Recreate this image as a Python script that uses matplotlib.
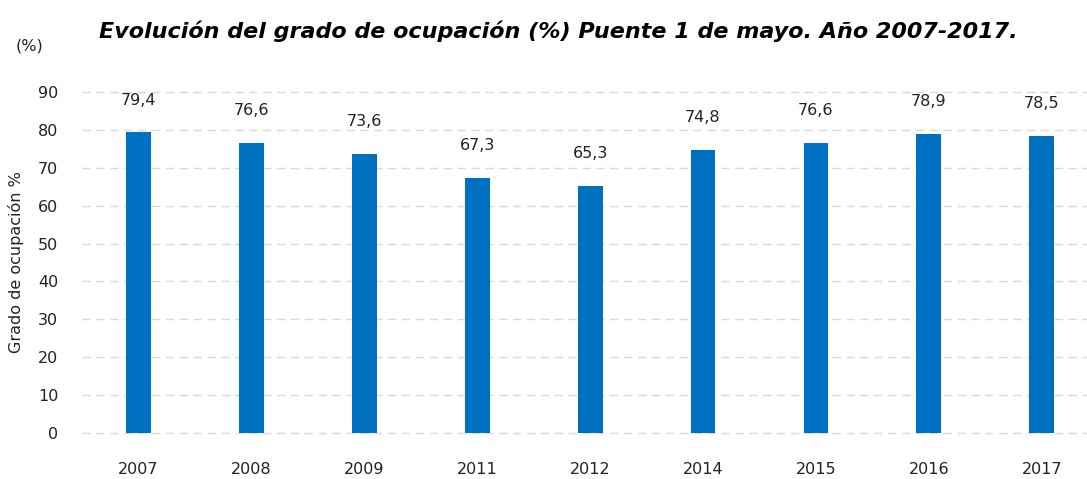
import matplotlib.pyplot as plt
import numpy as np

years = ['2007', '2008', '2009', '2011', '2012', '2014', '2015', '2016', '2017']
ocupacion = [79.4, 76.6, 73.6, 67.3, 65.3, 74.8, 76.6, 78.9, 78.5]

plt.rcParams['font.family'] = ['DejaVu Sans']

fig = plt.figure(figsize=(10.87, 4.79), dpi=100)
ax = fig.add_axes([0.0754, 0.096, 0.9246, 0.712])

x = np.arange(len(years))
ax.bar(x, ocupacion, width=0.22, color='#0070C0', zorder=3)

for xi, v in zip(x, ocupacion):
    ax.text(xi, v + 6.5, ('%.1f' % v).replace('.', ','), ha='center', va='bottom',
            fontsize=11.5, color='#222222')

ax.set_xlim(-0.5, 8.4)
ax.set_ylim(0, 90)
ax.set_yticks(range(0, 91, 10))
ax.set_xticks(x)
ax.set_xticklabels(years)
ax.tick_params(axis='both', length=0, labelsize=11.5, colors='#222222')
ax.tick_params(axis='x', pad=21)
ax.tick_params(axis='y', pad=17)
ax.yaxis.grid(True, linestyle=(0, (6, 4)), color='#d9d9d9', linewidth=1, zorder=0)
ax.set_axisbelow(True)
for gl in ax.get_ygridlines():
    gl.set_clip_on(False)
for s in ax.spines.values():
    s.set_visible(False)

ax.set_ylabel('Grado de ocupación %', fontsize=11.5, color='#222222', labelpad=10)
fig.text(0.027, 0.905, '(%)', fontsize=11.5, color='#222222', ha='center', va='center')
fig.text(0.514, 0.935, 'Evolución del grado de ocupación (%) Puente 1 de mayo. Año 2007-2017.',
         fontsize=16, fontweight='heavy', fontstyle='italic', ha='center', va='center')

fig.savefig('out.png', dpi=100)
